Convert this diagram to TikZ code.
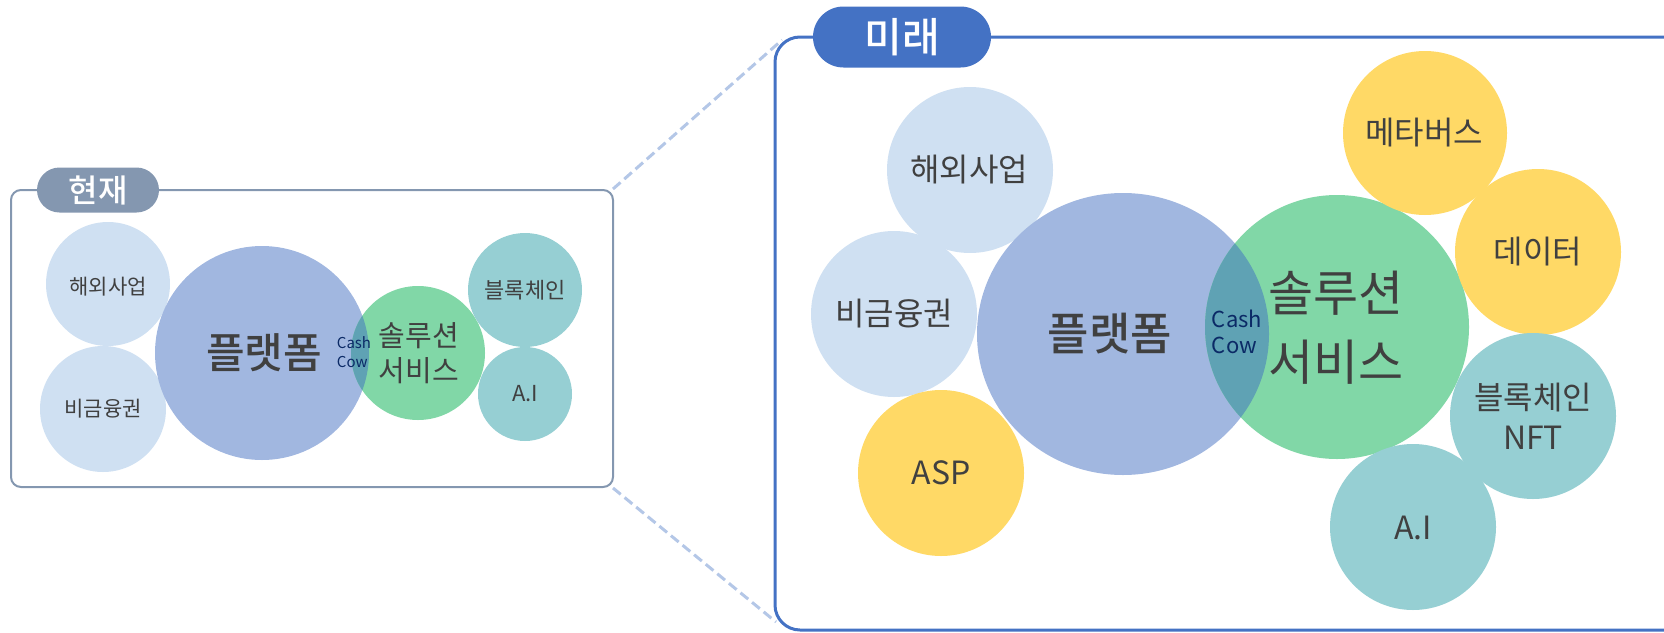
\documentclass[tikz,border=0pt]{standalone}
\usepackage{fontspec}
\setmainfont{Noto Sans CJK KR}
\newfontfamily\medfont{Noto Sans CJK KR Medium}
\usetikzlibrary{shapes.geometric,shapes.misc}
\definecolor{nowgray}{HTML}{8497B0}
\definecolor{futblue}{HTML}{4472C4}
\definecolor{linkblue}{HTML}{B4C7E7}
\definecolor{paleblue}{HTML}{CFE0F2}
\definecolor{platcol}{HTML}{A1B7E0}
\definecolor{solcol}{HTML}{81D7A7}
\definecolor{cowcol}{HTML}{5FA2B4}
\definecolor{tealcol}{HTML}{96CFD3}
\definecolor{goldcol}{HTML}{FFD966}
\definecolor{txtgray}{HTML}{404040}
\definecolor{cownavy}{HTML}{0B2A66}
\tikzset{
  bubble/.style={circle, inner sep=0pt, draw=none},
  word/.style={text=txtgray, align=center, inner sep=0pt},
  pill/.style={rounded rectangle, inner sep=0pt, text=white},
}
\begin{document}
\begin{tikzpicture}[x=1pt,y=-1pt]
		\useasboundingbox (0,0) rectangle (1664,632);
		% links between the boxes
		\coordinate (nowNE) at (613,189);
		\coordinate (nowSE) at (613,488);
		\coordinate (futNW) at (782,40);
		\coordinate (futSW) at (776,622);
		\draw[linkblue, line width=3pt, dash pattern=on 10pt off 5pt] (nowNE) -- (futNW);
		\draw[linkblue, line width=3pt, dash pattern=on 10pt off 5pt] (nowSE) -- (futSW);
		% boxes
		\draw[nowgray, line width=2pt, rounded corners=10pt] (11,190) rectangle (613,487);
		\draw[futblue, line width=3pt, rounded corners=25pt] (775,37) rectangle (1700,630);
		\node[pill, fill=nowgray, minimum width=122pt, minimum height=45pt, font=\fontsize{32}{34}\medfont] (now) at (98,190) {현재};
		\node[pill, fill=futblue, minimum width=178pt, minimum height=61pt, font=\fontsize{41}{43}\medfont] (fut) at (902,37) {미래};
		% now
		\node[bubble, fill=paleblue, minimum size=124pt] (abroadL) at (108,284) {};
		\node[bubble, fill=paleblue, minimum size=126pt] (nonbankL) at (103,409) {};
		\node[bubble, fill=platcol, minimum size=214pt] (platL) at (262,353) {};
		\node[bubble, fill=solcol, minimum size=134pt] (solL) at (418,353) {};
		\begin{scope}
			\clip (262,353) circle (107);
			\fill[cowcol] (418,353) circle (67);
		\end{scope}
		\node[bubble, fill=tealcol, minimum size=114pt] (chainL) at (525,290) {};
		\node[bubble, fill=tealcol, minimum size=94pt] (aiL) at (525,394) {};
		\node[word, font=\fontsize{21}{23}\selectfont] (tAbroadL) at (108,287) {해외사업};
		\node[word, font=\fontsize{21}{23}\selectfont] (tNonbankL) at (103,409) {비금융권};
		\node[word, font=\fontsize{42}{44}\medfont] (tPlatL) at (264,353) {플랫폼};
		\node[word, text=cownavy, font=\fontsize{15}{19}\selectfont, align=left] (tCowL) at (354,352) {Cash\\Cow};
		\node[word, font=\fontsize{29}{35}\selectfont] (tSolL) at (419,353) {솔루션\\서비스};
		\node[word, font=\fontsize{22}{24}\selectfont] (tChainL) at (525,290) {블록체인};
		\node[word, font=\fontsize{22}{24}\selectfont] (tAiL) at (525,394) {A.I};
		% future
		\node[bubble, fill=paleblue, minimum size=166pt] (abroadR) at (970,170) {};
		\node[bubble, fill=paleblue, minimum size=166pt] (nonbankR) at (894,314) {};
		\node[bubble, fill=goldcol, minimum size=166pt] (aspR) at (941,473) {};
		\node[ellipse, inner sep=0pt, fill=platcol, minimum width=292pt, minimum height=282pt] (platR) at (1123,334) {};
		\node[bubble, fill=solcol, minimum size=264pt] (solR) at (1337,327) {};
		\begin{scope}
			\clip (1123,334) ellipse [x radius=146, y radius=141];
			\fill[cowcol] (1337,327) circle (132);
		\end{scope}
		\node[bubble, fill=goldcol, minimum size=164pt] (metaR) at (1425,133) {};
		\node[bubble, fill=goldcol, minimum size=166pt] (dataR) at (1538,252) {};
		\node[bubble, fill=tealcol, minimum size=166pt] (chainR) at (1533,416) {};
		\node[bubble, fill=tealcol, minimum size=166pt] (aiR) at (1413,527) {};
		\node[word, font=\fontsize{32}{34}\selectfont] (tAbroadR) at (969,170) {해외사업};
		\node[word, font=\fontsize{32}{34}\selectfont] (tNonbankR) at (894,314) {비금융권};
		\node[word, font=\fontsize{32}{34}\selectfont] (tAspR) at (941,473) {ASP};
		\node[word, font=\fontsize{45}{47}\medfont] (tPlatR) at (1110,334) {플랫폼};
		\node[word, text=cownavy, font=\fontsize{22}{26}\selectfont, align=left] (tCowR) at (1237,332) {Cash\\Cow};
		\node[word, font=\fontsize{49}{69}\selectfont] (tSolR) at (1336,328) {솔루션\\서비스};
		\node[word, font=\fontsize{32}{34}\selectfont] (tMetaR) at (1424,133) {메타버스};
		\node[word, font=\fontsize{32}{34}\selectfont] (tDataR) at (1538,252) {데이터};
		\node[word, font=\fontsize{32}{40}\selectfont] (tChainR) at (1533,416) {블록체인\\NFT};
		\node[word, font=\fontsize{32}{34}\selectfont] (tAiR) at (1413,528) {A.I};
\end{tikzpicture}
\end{document}
